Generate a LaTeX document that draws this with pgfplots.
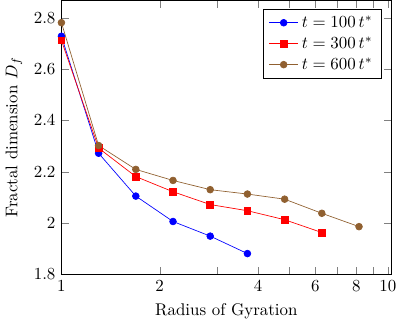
\documentclass[border=0pt]{standalone}
\usepackage{pgfplots}
\pgfplotsset{compat=1.18}
\begin{document}
\begin{tikzpicture}
\begin{semilogxaxis}[
  xmin=1, xmax=10.24,
  ymin=1.8, ymax=2.868,
  xtick={1,2,3,4,5,6,7,8,9,10},
  xticklabels={1,2,,4,,6,,8,,10},
  ytick={1.8,2,2.2,2.4,2.6,2.8},
  xlabel={Radius of Gyration},
  ylabel={Fractal dimension $D_f$},
  legend pos=north east,
]
\addplot[blue, mark=*] coordinates {
(1,2.728) (1.3,2.272) (1.69,2.105) (2.197,2.006) (2.856,1.949) (3.713,1.881)
};
\addlegendentry{$t = 100\,t^*$}
\addplot[red, mark=square*] coordinates {
(1,2.712) (1.3,2.292) (1.69,2.181) (2.197,2.122) (2.856,2.072) (3.713,2.048) (4.827,2.013) (6.275,1.963)
};
\addlegendentry{$t = 300\,t^*$}
\addplot[brown!75!black, mark=*] coordinates {
(1,2.781) (1.3,2.302) (1.69,2.209) (2.197,2.166) (2.856,2.130) (3.713,2.113) (4.827,2.093) (6.275,2.038) (8.157,1.986)
};
\addlegendentry{$t = 600\,t^*$}
\end{semilogxaxis}
\end{tikzpicture}
\end{document}
